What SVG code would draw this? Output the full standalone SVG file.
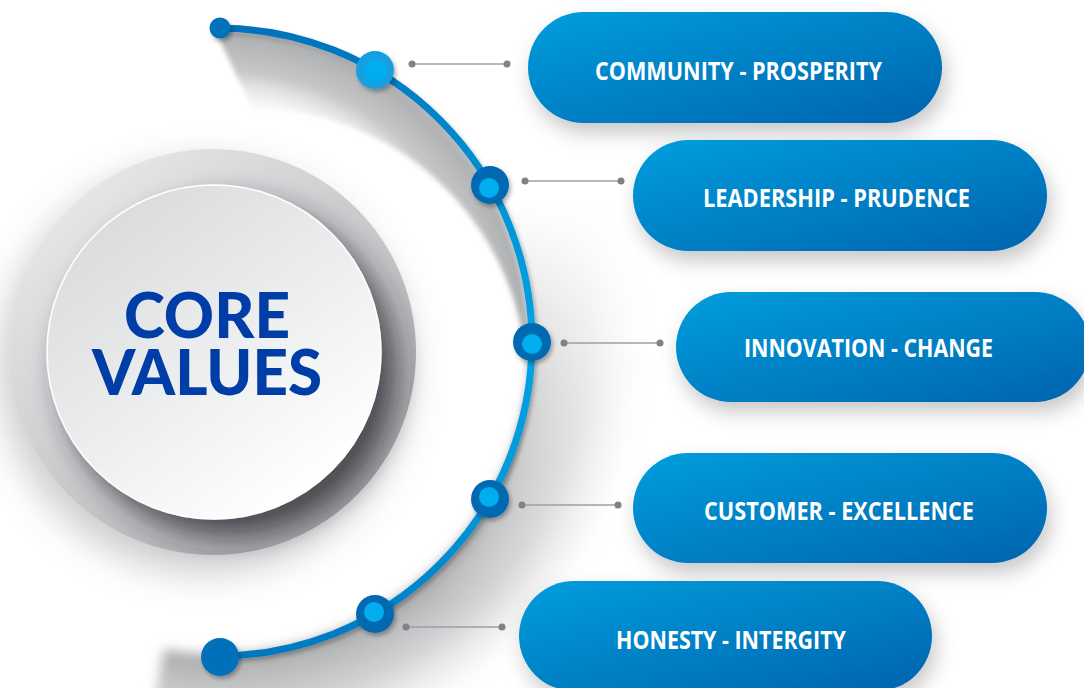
<svg xmlns="http://www.w3.org/2000/svg" width="1084" height="688" viewBox="0 0 1084 688">
<defs>
<style>
.pill{fill:url(#pillGrad);filter:url(#pillShadow)}
.ptxt{font-family:"Open Sans","Liberation Sans",sans-serif;font-weight:700;font-size:25px;fill:#ffffff}
.core{font-family:Lato,"Liberation Sans",sans-serif;font-weight:900;font-size:62px;fill:#003DA6}
.conn line{stroke:#9d9fa2;stroke-width:1.6}
.conn circle{fill:#808285}
.nodeOuter{fill:#0069B2;filter:url(#nodeShadow)}
.nodeInner{fill:#00AEEF}
</style>
<linearGradient id="pillGrad" x1="0" y1="0" x2="1" y2="1">
<stop offset="0" stop-color="#009EDD"/>
<stop offset="1" stop-color="#0063AE"/>
</linearGradient>
<linearGradient id="arcGrad" gradientUnits="userSpaceOnUse" x1="0" y1="28" x2="0" y2="656">
<stop offset="0" stop-color="#0072BB"/>
<stop offset="0.25" stop-color="#0092D6"/>
<stop offset="0.5" stop-color="#00A3E4"/>
<stop offset="0.75" stop-color="#0098DB"/>
<stop offset="1" stop-color="#0078C0"/>
</linearGradient>
<radialGradient id="bandGrad" gradientUnits="userSpaceOnUse" cx="218" cy="342" r="316">
<stop offset="0.70" stop-color="#ffffff" stop-opacity="0"/>
<stop offset="0.86" stop-color="#c6c7c9"/>
<stop offset="1" stop-color="#a9aaac"/>
</radialGradient>
<radialGradient id="outerGrad" gradientUnits="userSpaceOnUse" cx="218" cy="342" r="430">
<stop offset="0.72" stop-color="#a8a9ab"/>
<stop offset="0.86" stop-color="#c4c5c7" stop-opacity="0.75"/>
<stop offset="1" stop-color="#e6e6e6" stop-opacity="0"/>
</radialGradient>
<linearGradient id="outerMaskGrad" gradientUnits="userSpaceOnUse" x1="0" y1="200" x2="0" y2="600">
<stop offset="0" stop-color="#fff" stop-opacity="0"/>
<stop offset="0.45" stop-color="#fff" stop-opacity="0.5"/>
<stop offset="1" stop-color="#fff" stop-opacity="1"/>
</linearGradient>
<linearGradient id="innerMaskGrad" gradientUnits="userSpaceOnUse" x1="0" y1="380" x2="0" y2="640">
<stop offset="0" stop-color="#fff" stop-opacity="1"/>
<stop offset="1" stop-color="#fff" stop-opacity="0.25"/>
</linearGradient>
<mask id="outerMask" maskUnits="userSpaceOnUse" x="0" y="0" width="1084" height="688">
<rect width="1084" height="688" fill="url(#outerMaskGrad)"/>
</mask>
<mask id="innerMask" maskUnits="userSpaceOnUse" x="0" y="0" width="1084" height="688">
<rect width="1084" height="688" fill="url(#innerMaskGrad)"/>
</mask>
<linearGradient id="ringGrad" x1="0.15" y1="0.1" x2="0.85" y2="0.9">
<stop offset="0" stop-color="#e6e7e8"/>
<stop offset="0.6" stop-color="#c4c5c7"/>
<stop offset="1" stop-color="#9c9ea1"/>
</linearGradient>
<linearGradient id="innerGrad" x1="0.2" y1="0.1" x2="0.8" y2="0.9">
<stop offset="0" stop-color="#dadcde"/>
<stop offset="0.55" stop-color="#eeeff0"/>
<stop offset="1" stop-color="#ffffff"/>
</linearGradient>
<filter id="pillShadow" x="-20%" y="-30%" width="140%" height="170%">
<feDropShadow dx="4" dy="10" stdDeviation="10" flood-color="#000" flood-opacity="0.22"/>
</filter>
<filter id="nodeShadow" x="-50%" y="-50%" width="200%" height="200%">
<feDropShadow dx="2" dy="3" stdDeviation="2" flood-color="#000" flood-opacity="0.3"/>
</filter>
<filter id="blur3" x="-20%" y="-20%" width="140%" height="140%">
<feGaussianBlur stdDeviation="2.5"/>
</filter>
<filter id="blur10" x="-30%" y="-30%" width="160%" height="160%">
<feGaussianBlur stdDeviation="6"/>
</filter>
<filter id="blur20" x="-30%" y="-30%" width="160%" height="160%">
<feGaussianBlur stdDeviation="18"/>
</filter>
<filter id="innerShadow" x="-30%" y="-30%" width="160%" height="160%">
<feDropShadow dx="14" dy="16" stdDeviation="14" flood-color="#2b2c2e" flood-opacity="0.75"/>
</filter>
</defs>
<rect width="1084" height="688" fill="#ffffff"/>

<g id="arc-shadow">
<g mask="url(#outerMask)">
<path d="M 473.6 163 A 312 312 0 0 1 163.8 649.3 L 143.3 765.5 A 430 430 0 0 0 570.2 95.4 Z" fill="url(#outerGrad)" filter="url(#blur10)"/>
</g>
<g mask="url(#innerMask)">
<path d="M 216 32 A 312 312 0 0 1 218 656 L 250 660 A 236 236 0 0 0 252 108 Z" fill="url(#bandGrad)" filter="url(#blur3)"/>
</g>
</g>

<g id="core-values">
<circle cx="205" cy="368" r="205" fill="#8f9194" opacity="0.45" filter="url(#blur20)"/>
<circle cx="213" cy="352" r="203" fill="url(#ringGrad)"/>
<circle cx="214" cy="352" r="167" fill="url(#innerGrad)" stroke="#ffffff" stroke-width="1.5" filter="url(#innerShadow)"/>
<text class="core"><tspan x="124" y="338" textLength="166" lengthAdjust="spacingAndGlyphs">CORE</tspan><tspan x="92" y="395" textLength="230" lengthAdjust="spacingAndGlyphs">VALUES</tspan></text>
</g>

<g id="connectors" class="conn">
<line x1="412" y1="64" x2="507" y2="64"/><circle cx="412" cy="64" r="3.5"/><circle cx="507" cy="64" r="3.5"/>
<line x1="525" y1="181" x2="621" y2="181"/><circle cx="525" cy="181" r="3.5"/><circle cx="621" cy="181" r="3.5"/>
<line x1="564" y1="343" x2="660" y2="343"/><circle cx="564" cy="343" r="3.5"/><circle cx="660" cy="343" r="3.5"/>
<line x1="522" y1="505" x2="618" y2="505"/><circle cx="522" cy="505" r="3.5"/><circle cx="618" cy="505" r="3.5"/>
<line x1="406" y1="627" x2="502" y2="627"/><circle cx="406" cy="627" r="3.5"/><circle cx="502" cy="627" r="3.5"/>
</g>

<g id="arc">
<path d="M 218 28 A 314 314 0 0 1 218 656" fill="none" stroke="url(#arcGrad)" stroke-width="7" filter="url(#nodeShadow)"/>
<circle cx="220" cy="28" r="10.5" fill="#0071BB" filter="url(#nodeShadow)"/>
<circle cx="220" cy="657" r="19" fill="#0070BA" filter="url(#nodeShadow)"/>
</g>

<g id="node-1">
<circle cx="375" cy="70" r="19" fill="#12A0E1" filter="url(#nodeShadow)"/>
<circle class="nodeInner" cx="376" cy="71" r="11"/>
</g>
<g id="node-2">
<circle class="nodeOuter" cx="490" cy="185" r="19"/>
<circle class="nodeInner" cx="489" cy="188" r="10"/>
</g>
<g id="node-3">
<circle class="nodeOuter" cx="532" cy="342" r="19"/>
<circle class="nodeInner" cx="532" cy="344" r="10"/>
</g>
<g id="node-4">
<circle class="nodeOuter" cx="490" cy="499" r="19"/>
<circle class="nodeInner" cx="489" cy="497" r="10"/>
</g>
<g id="node-5">
<circle class="nodeOuter" cx="375" cy="614" r="19"/>
<circle class="nodeInner" cx="374" cy="612" r="10"/>
</g>

<g id="pill-community">
<rect class="pill" x="528" y="12" width="414" height="111" rx="55.5"/>
<text class="ptxt" x="595" y="80" textLength="287" lengthAdjust="spacingAndGlyphs">COMMUNITY - PROSPERITY</text>
</g>
<g id="pill-leadership">
<rect class="pill" x="633" y="140" width="414" height="111" rx="55.5"/>
<text class="ptxt" x="703" y="207" textLength="267" lengthAdjust="spacingAndGlyphs">LEADERSHIP - PRUDENCE</text>
</g>
<g id="pill-innovation">
<rect class="pill" x="676" y="292" width="414" height="110" rx="55"/>
<text class="ptxt" x="744" y="357" textLength="249" lengthAdjust="spacingAndGlyphs">INNOVATION - CHANGE</text>
</g>
<g id="pill-customer">
<rect class="pill" x="633" y="453" width="414" height="110" rx="55"/>
<text class="ptxt" x="704" y="520" textLength="270" lengthAdjust="spacingAndGlyphs">CUSTOMER - EXCELLENCE</text>
</g>
<g id="pill-honesty">
<rect class="pill" x="519" y="581" width="413" height="110" rx="55"/>
<text class="ptxt" x="616" y="649" textLength="230" lengthAdjust="spacingAndGlyphs">HONESTY - INTERGITY</text>
</g>
</svg>
